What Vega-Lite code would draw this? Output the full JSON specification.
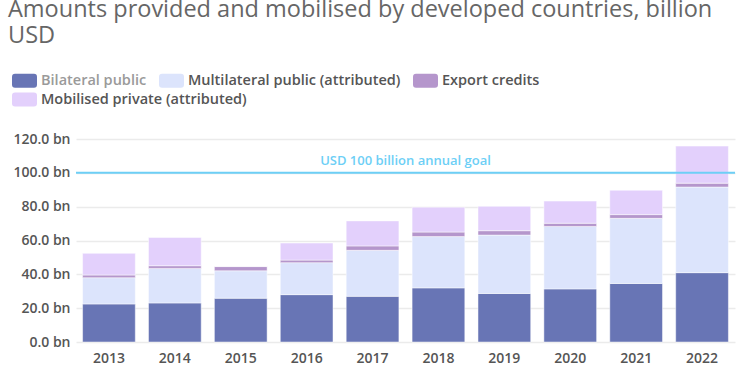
{
  "$schema": "https://vega.github.io/schema/vega-lite/v6.json",
  "width": 659,
  "height": 203,
  "autosize": {"type": "none"},
  "padding": {"left": 76, "top": 139, "right": 15, "bottom": 33},
  "background": "white",
  "config": {
    "font": "Open Sans",
    "view": {"stroke": null}
  },
  "title": {
    "text": ["Amounts provided and mobilised by developed countries, billion", "USD"],
    "anchor": "start",
    "frame": "group",
    "orient": "top",
    "dx": -68,
    "offset": -3,
    "baseline": "bottom",
    "fontSize": 23.5,
    "fontWeight": "normal",
    "font": "Open Sans",
    "color": "#666666",
    "lineHeight": 26
  },
  "datasets": {
    "finance": [
      {"year": "2013", "type": "Bilateral public", "value": 22.5},
      {"year": "2013", "type": "Multilateral public (attributed)", "value": 15.5},
      {"year": "2013", "type": "Export credits", "value": 1.6},
      {"year": "2013", "type": "Mobilised private (attributed)", "value": 12.8},
      {"year": "2014", "type": "Bilateral public", "value": 23.1},
      {"year": "2014", "type": "Multilateral public (attributed)", "value": 20.4},
      {"year": "2014", "type": "Export credits", "value": 1.6},
      {"year": "2014", "type": "Mobilised private (attributed)", "value": 16.7},
      {"year": "2015", "type": "Bilateral public", "value": 25.9},
      {"year": "2015", "type": "Multilateral public (attributed)", "value": 16.2},
      {"year": "2015", "type": "Export credits", "value": 2.5},
      {"year": "2015", "type": "Mobilised private (attributed)", "value": 0},
      {"year": "2016", "type": "Bilateral public", "value": 28.0},
      {"year": "2016", "type": "Multilateral public (attributed)", "value": 18.9},
      {"year": "2016", "type": "Export credits", "value": 1.5},
      {"year": "2016", "type": "Mobilised private (attributed)", "value": 10.1},
      {"year": "2017", "type": "Bilateral public", "value": 27.0},
      {"year": "2017", "type": "Multilateral public (attributed)", "value": 27.2},
      {"year": "2017", "type": "Export credits", "value": 2.6},
      {"year": "2017", "type": "Mobilised private (attributed)", "value": 14.8},
      {"year": "2018", "type": "Bilateral public", "value": 32.0},
      {"year": "2018", "type": "Multilateral public (attributed)", "value": 30.3},
      {"year": "2018", "type": "Export credits", "value": 2.7},
      {"year": "2018", "type": "Mobilised private (attributed)", "value": 14.7},
      {"year": "2019", "type": "Bilateral public", "value": 28.7},
      {"year": "2019", "type": "Multilateral public (attributed)", "value": 34.5},
      {"year": "2019", "type": "Export credits", "value": 2.6},
      {"year": "2019", "type": "Mobilised private (attributed)", "value": 14.4},
      {"year": "2020", "type": "Bilateral public", "value": 31.4},
      {"year": "2020", "type": "Multilateral public (attributed)", "value": 36.9},
      {"year": "2020", "type": "Export credits", "value": 1.9},
      {"year": "2020", "type": "Mobilised private (attributed)", "value": 13.1},
      {"year": "2021", "type": "Bilateral public", "value": 34.6},
      {"year": "2021", "type": "Multilateral public (attributed)", "value": 38.5},
      {"year": "2021", "type": "Export credits", "value": 2.2},
      {"year": "2021", "type": "Mobilised private (attributed)", "value": 14.4},
      {"year": "2022", "type": "Bilateral public", "value": 41.0},
      {"year": "2022", "type": "Multilateral public (attributed)", "value": 50.6},
      {"year": "2022", "type": "Export credits", "value": 2.3},
      {"year": "2022", "type": "Mobilised private (attributed)", "value": 21.9}
    ],
    "goal": [{"goal": 100, "label": "USD 100 billion annual goal"}]
  },
  "layer": [
    {
      "data": {"name": "finance"},
      "transform": [
        {"calculate": "indexof(['Bilateral public', 'Multilateral public (attributed)', 'Export credits', 'Mobilised private (attributed)'], datum.type)", "as": "stackIndex"}
      ],
      "mark": {"type": "bar", "stroke": "#ffffff", "strokeWidth": 0.8, "strokeOpacity": 0.6},
      "encoding": {
        "x": {
          "field": "year",
          "type": "ordinal",
          "scale": {"paddingInner": 0.2, "paddingOuter": 0.1},
          "axis": {
            "title": null,
            "labelAngle": 0,
            "labelFontSize": 14,
            "labelFontWeight": 600,
            "labelColor": "#555555",
            "labelPadding": 9,
            "ticks": false,
            "domain": false
          }
        },
        "y": {
          "field": "value",
          "type": "quantitative",
          "aggregate": "sum",
          "stack": "zero",
          "scale": {"domain": [0, 120], "nice": false},
          "axis": {
            "title": null,
            "values": [0, 20, 40, 60, 80, 100, 120],
            "tickCount": 7,
            "labelOverlap": false,
            "labelExpr": "format(datum.value, '.1f') + ' bn'",
            "labelFontSize": 14,
            "labelFontWeight": 600,
            "labelColor": "#555555",
            "labelPadding": 6,
            "ticks": false,
            "domain": false,
            "gridColor": "#ebebeb",
            "gridWidth": 1.5
          }
        },
        "order": {"field": "stackIndex", "type": "quantitative", "sort": "ascending"},
        "color": {
          "field": "type",
          "type": "nominal",
          "scale": {
            "domain": ["Bilateral public", "Multilateral public (attributed)", "Export credits", "Mobilised private (attributed)"],
            "range": ["#6875b5", "#dce4fc", "#b596cc", "#e3d0fc"]
          },
          "legend": {
            "title": null,
            "orient": "none",
            "legendX": -64,
            "legendY": -71,
            "direction": "horizontal",
            "values": ["Bilateral public", "Multilateral public (attributed)", "Export credits"],
            "columns": 3,
            "gridAlign": "each",
            "columnPadding": 12,
            "padding": 0,
            "symbolType": "M-0.76,-0.56H0.76Q1,-0.56 1,-0.32V0.32Q1,0.56 0.76,0.56H-0.76Q-1,0.56 -1,0.32V-0.32Q-1,-0.56 -0.76,-0.56Z",
            "symbolSize": 625,
            "symbolStrokeWidth": 0,
            "symbolOpacity": 1,
            "labelFontSize": 14.5,
            "labelFontWeight": 600,
            "labelColor": {"expr": "datum.label === 'Bilateral public' ? '#9a9a9a' : '#555555'"},
            "labelOffset": 4,
            "labelLimit": 400
          }
        }
      }
    },
    {
      "data": {"name": "finance"},
      "transform": [
        {"filter": "datum.type === 'Mobilised private (attributed)'"}
      ],
      "mark": {"type": "square", "opacity": 0, "size": 1},
      "encoding": {
        "x": {
          "field": "year",
          "type": "ordinal",
          "axis": {
            "title": null,
            "labelAngle": 0,
            "labelFontSize": 14,
            "labelFontWeight": 600,
            "labelColor": "#555555",
            "labelPadding": 9,
            "ticks": false,
            "domain": false
          }
        },
        "y": {
          "field": "value",
          "type": "quantitative",
          "axis": {
            "title": null,
            "values": [0, 20, 40, 60, 80, 100, 120],
            "tickCount": 7,
            "labelOverlap": false,
            "labelExpr": "format(datum.value, '.1f') + ' bn'",
            "labelFontSize": 14,
            "labelFontWeight": 600,
            "labelColor": "#555555",
            "labelPadding": 6,
            "ticks": false,
            "domain": false,
            "gridColor": "#ebebeb",
            "gridWidth": 1.5
          }
        },
        "fill": {
          "field": "type",
          "type": "nominal",
          "scale": {
            "domain": ["Mobilised private (attributed)"],
            "range": ["#e3d0fc"]
          },
          "legend": {
            "title": null,
            "orient": "none",
            "legendX": -64,
            "legendY": -52,
            "direction": "horizontal",
            "padding": 0,
            "symbolType": "M-0.76,-0.56H0.76Q1,-0.56 1,-0.32V0.32Q1,0.56 0.76,0.56H-0.76Q-1,0.56 -1,0.32V-0.32Q-1,-0.56 -0.76,-0.56Z",
            "symbolSize": 625,
            "symbolStrokeWidth": 0,
            "symbolOpacity": 1,
            "labelFontSize": 14.5,
            "labelFontWeight": 600,
            "labelColor": "#555555",
            "labelOffset": 4,
            "labelLimit": 400
          }
        }
      }
    },
    {
      "data": {"name": "goal"},
      "mark": {"type": "rule", "color": "#6dcff6", "strokeWidth": 2},
      "encoding": {
        "y": {
          "field": "goal",
          "type": "quantitative",
          "axis": {
            "title": null,
            "values": [0, 20, 40, 60, 80, 100, 120],
            "tickCount": 7,
            "labelOverlap": false,
            "labelExpr": "format(datum.value, '.1f') + ' bn'",
            "labelFontSize": 14,
            "labelFontWeight": 600,
            "labelColor": "#555555",
            "labelPadding": 6,
            "ticks": false,
            "domain": false,
            "gridColor": "#ebebeb",
            "gridWidth": 1.5
          }
        }
      }
    },
    {
      "data": {"name": "goal"},
      "mark": {"type": "text", "color": "#6dcff6", "fontSize": 13, "fontWeight": 600, "dy": -12, "align": "center"},
      "encoding": {
        "y": {
          "field": "goal",
          "type": "quantitative",
          "axis": {
            "title": null,
            "values": [0, 20, 40, 60, 80, 100, 120],
            "tickCount": 7,
            "labelOverlap": false,
            "labelExpr": "format(datum.value, '.1f') + ' bn'",
            "labelFontSize": 14,
            "labelFontWeight": 600,
            "labelColor": "#555555",
            "labelPadding": 6,
            "ticks": false,
            "domain": false,
            "gridColor": "#ebebeb",
            "gridWidth": 1.5
          }
        },
        "text": {"field": "label"}
      }
    }
  ]
}
